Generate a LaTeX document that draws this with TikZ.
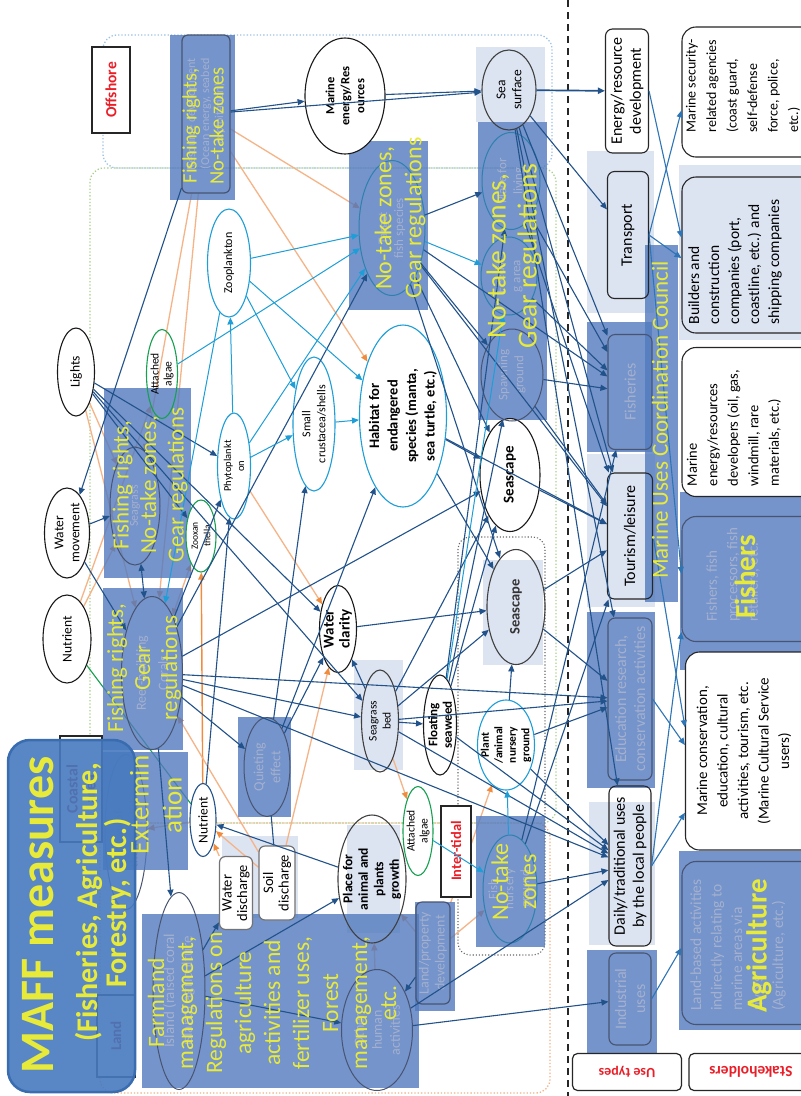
\documentclass[tikz,border=0pt]{standalone}
\usepackage{fontspec}
\setmainfont{Carlito}
\usetikzlibrary{shapes.geometric,arrows.meta,calc}
\pgfdeclarelayer{bg}
\pgfdeclarelayer{under}
\pgfdeclarelayer{veil}
\pgfdeclarelayer{top}
\pgfsetlayers{bg,under,veil,main,top}
\definecolor{dbc}{RGB}{34,82,138}
\definecolor{lbc}{RGB}{30,158,214}
\definecolor{mbc}{RGB}{46,117,182}
\definecolor{orl}{RGB}{245,180,135}
\definecolor{ord}{RGB}{240,140,62}
\definecolor{grc}{RGB}{22,160,80}
\definecolor{ovc}{RGB}{82,122,190}
\definecolor{palec}{RGB}{220,227,241}
\definecolor{hidc}{RGB}{72,84,112}
\definecolor{hidt}{RGB}{165,176,206}
\definecolor{ylw}{RGB}{232,234,58}
\definecolor{mafc}{RGB}{72,122,191}
\definecolor{mafd}{RGB}{58,108,176}
\definecolor{redc}{RGB}{235,30,40}
\definecolor{offc}{RGB}{157,195,230}
\definecolor{coac}{RGB}{169,209,142}
\definecolor{lanc}{RGB}{244,177,131}
\newcommand\fz[2]{\fontsize{#1}{#2}\selectfont}
% ellipse outline node plus a separate text node on top of it
\newcommand\enode[7]{%
  \node[#1,minimum width=#4pt,minimum height=#5pt] (#2) at #3 {};
  \node[tx,#6] (#2-t) at (#2) {#7};}
\begin{document}
\begin{tikzpicture}[x=1pt,y=-1pt,>={Triangle[length=7pt,width=6pt]},
 tx/.style={rotate=90,align=center,inner sep=0pt},
 hidtx/.style={text=hidt},
 ytx/.style={rotate=90,align=center,inner sep=0pt,text=ylw},
 ellB/.style={ellipse,rotate=90,draw=black!90,line width=1.1pt,fill=white,inner sep=0pt},
 ellO/.style={ellipse,rotate=90,draw=black!75,line width=1.1pt,inner sep=0pt},
 ellD/.style={ellB,draw=dbc},
 ellL/.style={ellB,draw=lbc},
 ellG/.style={ellB,draw=grc},
 ellGo/.style={ellO,draw=grc},
 ellH/.style={ellipse,rotate=90,draw=hidc,line width=1pt,inner sep=0pt},
 ellHL/.style={ellH,draw=lbc!60!hidc},
 rbox/.style={rectangle,rotate=90,rounded corners=6pt,draw=black!55,line width=1.2pt,fill=white,align=center,inner sep=1pt},
 rboxh/.style={rectangle,rotate=90,rounded corners=6pt,draw=hidc,line width=1.2pt,align=center,inner sep=1pt,text=hidt},
 ubox/.style={rectangle,rotate=90,rounded corners=7pt,draw=black!85,line width=1.1pt,align=center,inner sep=1pt,font=\fz{16}{19}},
 uboxh/.style={ubox,draw=hidc,text=hidt},
 sbox/.style={rectangle,rotate=90,rounded corners=14pt,draw=black!85,line width=1.1pt,inner sep=0pt},
 sboxh/.style={sbox,draw=hidc},
 stx/.style={rotate=90,align=left,inner sep=0pt},
 lab/.style={rectangle,draw=black!85,line width=2pt,fill=white,text=redc,font=\bfseries\fz{14}{16},inner sep=0pt,align=center},
 veilbox/.style={fill=ovc,fill opacity=0.8,draw=none},
 palebox/.style={fill=palec,draw=none},
 db/.style={draw=dbc,line width=1.1pt,->},
 dbn/.style={draw=dbc,line width=1.1pt},
 dbb/.style={draw=dbc,line width=1.1pt,<->},
 lbe/.style={draw=lbc,line width=1pt,->},
 mbe/.style={draw=mbc,line width=1.1pt,->},
 ore/.style={draw=orl,line width=1.3pt,-{Triangle[length=7pt,width=6pt,color=ord]}},
 orb/.style={draw=orl,line width=1.3pt,{Triangle[length=7pt,width=6pt,color=ord]}-{Triangle[length=7pt,width=6pt,color=ord]}},
 ordk/.style={draw=ord,line width=1.4pt,->},
 gre/.style={draw=grc,line width=1.1pt}]
\useasboundingbox (0,0) rectangle (801,1096);
\clip (0,0) rectangle (801,1096);

% ---------- pale backgrounds and zone outlines
\begin{pgfonlayer}{bg}
\fill[white] (0,0) rectangle (801,1096);
\fill[palebox] (476,47) rectangle (545,122);
\fill[palebox] (483,560) rectangle (543,665);
\fill[palebox] (354,660) rectangle (403,770);
\fill[palebox] (347,825) rectangle (400,933);
\fill[palebox] (222,836) rectangle (298,918);
\fill[palebox] (587,151) rectangle (654,313);
\fill[palebox] (587,454) rectangle (655,607);
\fill[palebox] (589,802) rectangle (655,945);
\fill[palebox] (679,165) rectangle (801,340);
\draw[offc,dotted,line width=1.3pt,rounded corners=14pt] (103,35) rectangle (552,168);
\draw[coac,dotted,line width=1.3pt,rounded corners=14pt] (90,168) rectangle (556,823);
\draw[lanc,dotted,line width=1.3pt,rounded corners=14pt] (100,823) rectangle (550,1093);
\draw[black!60,dotted,line width=1.1pt,rounded corners=12pt] (458,537) rectangle (545,955);
\draw[black!85,line width=1.3pt,dash pattern=on 7pt off 5pt] (568,0) -- (568,1096);
\end{pgfonlayer}

% ---------- ecosystem nodes
\enode{ellB}{lights}{(76,372)}{88}{37}{font=\fz{13.5}{15}}{Lights}
\enode{ellB}{watermv}{(67,533)}{90}{45}{font=\fz{13.5}{16}}{Water\\movement}
\enode{ellB}{nutr1}{(67,639)}{88}{48}{font=\fz{13.5}{15}}{Nutrient}
\enode{ellB}{menergy}{(345,96)}{116}{80}{font=\bfseries\fz{12.5}{15}}{Marine\\energy/Res\\ources}
\enode{ellO}{seasurf}{(509,90)}{80}{54}{font=\fz{13.5}{16}}{Sea\\surface}
\enode{ellB}{seascape1}{(510,475)}{113}{60}{font=\bfseries\fz{15}{18}}{Seascape}
\enode{ellO}{seascape2}{(516,607)}{115}{58}{font=\bfseries\fz{14.5}{17},text=black!80}{Seascape}
\enode{ellB}{waterclar}{(338,629)}{87}{37}{font=\bfseries\fz{15}{16}}{Water\\clarity}
\enode{ellO}{sgbed}{(380,721)}{102}{37}{font=\fz{11.5}{14}}{Seagrass\\bed}
\enode{ellB}{floatsw}{(440,725)}{100}{33}{font=\bfseries\fz{13}{14.5}}{Floating\\seaweed}
\enode{ellO}{placeanim}{(372,879)}{128}{68}{font=\bfseries\fz{13.5}{15.5}}{Place for\\animal and\\plants\\growth}
\enode{ellD}{nutr2}{(203,820)}{73}{26}{font=\fz{13.5}{15}}{Nutrient}
\enode{ellL}{zoopl}{(229,263)}{108}{43}{font=\fz{12}{14}}{Zooplankton}
\enode{ellL}{phyto}{(234,466)}{106}{33}{font=\fz{10.5}{13}}{Phytoplankt\\on}
\enode{ellL}{smallcr}{(314,424)}{134}{42}{font=\fz{12}{15}}{Small\\crustacea/shells}
\enode{ellL}{habitat}{(403,416)}{182}{87}{font=\bfseries\fz{14.5}{18.5}}{Habitat for\\endangered\\species (manta,\\sea turtle, etc.)}
\enode{ellL}{nursery}{(506,745)}{90}{57}{font=\bfseries\fz{11.5}{13.5}}{Plant\\/animal\\nursery\\ground}
\enode{ellGo}{algae1}{(162,374)}{89}{31}{font=\fz{11.5}{13}}{Attached\\algae}
\enode{ellG}{zooxan}{(201,536)}{72}{30}{font=\fz{9.5}{12.5}}{Zooxan\\thella}
\enode{ellG}{algae2}{(418,831)}{89}{30}{font=\fz{11.5}{13}}{Attached\\algae}
% nodes lying under the measure panels
\enode{ellHL}{targetfish}{(392,228)}{135}{66}{hidtx,font=\fz{13}{16}}{Target\\fish species}
\enode{ellHL}{placeliv}{(511,181)}{97}{58}{hidtx,font=\fz{13}{16}}{Place for\\living}
\enode{ellHL}{feeding}{(509,276)}{78}{56}{hidtx,font=\fz{13}{16}}{Feedin\\g area}
\enode{ellH}{spawning}{(512,375)}{92}{62}{hidtx,font=\fz{13}{16}}{Spawning\\ground}
\enode{ellHL}{fishnurs}{(510,889)}{108}{54}{hidtx,font=\fz{13}{16}}{Fish\\nursery\\ground}
\enode{ellH}{seagrass}{(135,506)}{118}{50}{hidtx,font=\fz{12}{15}}{Seagrass}
\enode{ellH}{coral}{(152,673)}{153}{61}{hidtx,font=\fz{14}{22}}{Reef-building\\Corals}
\enode{ellH}{quieting}{(267,767)}{99}{46}{hidtx,font=\fz{14}{17}}{Quieting\\effect}
\enode{ellH}{island}{(179,991)}{197}{52}{hidtx,font=\fz{15}{18}}{Island (raised coral\\island) agriculture}
\enode{ellH}{human}{(377,1030)}{121}{71}{hidtx,font=\fz{14}{18}}{Other\\human\\activities}
\node[rbox,minimum width=73pt,minimum height=33pt,font=\fz{14.5}{15.5}] (waterdis) at (236,893) {Water\\discharge};
\node[rbox,minimum width=74pt,minimum height=36pt,font=\fz{14.5}{15.5}] (soildis) at (277,883) {Soil\\discharge};
\node[rboxh,minimum width=102pt,minimum height=34pt,font=\fz{14}{16}] (landdev) at (433,953) {Land/property\\development};
\node[rboxh,minimum width=158pt,minimum height=48pt,font=\fz{12}{14}] (offbox) at (206,114) {Resource development\\(Ocean energy, seabed\\exploitation)};

% ---------- use types
\node[ubox,minimum width=124pt,minimum height=43pt,fill=white] (energydev) at (627,91) {Energy/resource\\development};
\node[ubox,minimum width=127pt,minimum height=41pt] (transport) at (628,235) {Transport};
\node[uboxh,minimum width=115pt,minimum height=44pt] (fisheries) at (630,392) {Fisheries};
\node[ubox,minimum width=126pt,minimum height=45pt] (tourism) at (630,536) {Tourism/leisure};
\node[uboxh,minimum width=162pt,minimum height=44pt] (education) at (630,699) {Education research,\\conservation activities};
\node[ubox,minimum width=160pt,minimum height=42pt] (daily) at (630,866) {Daily/traditional uses\\by the local people};
\node[uboxh,minimum width=92pt,minimum height=42pt] (industrial) at (630,999) {Industrial\\uses};

% ---------- stakeholders
\node[sbox,minimum width=130pt,minimum height=140pt,fill=white] (security) at (752,92) {};
\node[stx,font=\fz{14}{20.5}] (security-t) at (743,86) {Marine security-\\related agencies\\(coast guard,\\self-defense\\force, police,\\etc.)};
\node[sbox,minimum width=156pt,minimum height=140pt] (builders) at (752,255) {};
\node[stx,font=\fz{15.5}{20}] (builders-t) at (735,262) {Builders and\\construction\\companies (port,\\coastline, etc.) and\\shipping companies};
\node[sbox,minimum width=149pt,minimum height=140pt,fill=white] (mdevelop) at (752,422) {};
\node[stx,font=\fz{14.5}{20.5}] (mdevelop-t) at (734,428) {Marine\\energy/resources\\developers (oil, gas,\\windmill, rare\\materials, etc.)};
\node[sboxh,minimum width=125pt,minimum height=140pt] (fishers) at (752,579) {};
\node[stx,text=hidt,font=\fz{15}{20.5}] (fishers-t) at (733,575) {Fishers, fish\\processors, fish\\retailers, etc.};
\node[sbox,minimum width=198pt,minimum height=137pt,fill=white] (conserv) at (754,751) {};
\node[tx,font=\fz{15}{20.5}] (conserv-t) at (744,751) {Marine conservation,\\education, cultural\\activities, tourism, etc.\\(Marine Cultural Service\\users)};
\node[sboxh,minimum width=163pt,minimum height=140pt] (landbased) at (752,943) {};
\node[stx,text=hidt,font=\fz{15.5}{20.5}] (landbased-t) at (738,945) {Land-based activities\\indirectly relating to\\marine areas via\\rivers\\(Agriculture, etc.)};

% ---------- zone labels
\node[lab,rotate=90,font=\bfseries\fz{15.5}{17},minimum width=86pt,minimum height=38pt] (offlab) at (111,90) {Offshore};
\node[lab,rotate=90,font=\bfseries\fz{14.5}{16},minimum width=91pt,minimum height=30pt] (intlab) at (456,851) {Inter-tidal};
\node[lab,rotate=180,line width=1.2pt,rounded corners=5pt,minimum width=109pt,minimum height=37pt] (uselab) at (627,1072) {Use types};
\node[lab,rotate=180,line width=1.2pt,rounded corners=5pt,font=\bfseries\fz{15.5}{17},minimum width=124pt,minimum height=37pt] (stklab) at (751,1072) {Stakeholders};

% ---------- influences drawn beneath the measure panels
\begin{pgfonlayer}{under}
\node[lab,rotate=90,text=redc!70!black,font=\bfseries\fz{16}{18},minimum width=106pt,minimum height=42pt] (coastlab) at (81,789) {Coastal\\area};
\node[lab,rotate=90,text=redc!70!black,font=\bfseries\fz{15}{17},minimum width=82pt,minimum height=38pt] (landlab) at (116,1036) {Land};
\enode{ellH}{cots}{(126,832)}{155}{42}{text=hidc!60,font=\fz{12}{15}}{Crown-of-\\thorns starfish}
\draw[ore] (offbox) -- (targetfish);
\draw[ore] (offbox) -- (habitat);
\draw[ore] (offbox) -- (seagrass);
\draw[ore] (offbox) -- (coral);
\draw[ore] (lights) -- (seagrass);
\draw[ore] (lights) -- (coral);
\draw[ore] (nutr1) -- (seagrass);
\draw[ore] (nutr1) -- (algae1);
\draw[ore] (phyto) -- (waterclar);
\draw[ordk] (nutr2) -- (zooxan);
\draw[ore] (soildis) -- (nutr2);
\draw[ore] (waterdis) -- (nutr2);
\draw[ore] (soildis) -- (coral);
\draw[ore] (soildis) -- (waterclar);
\draw[ore] (nutr2) -- (cots);
\draw[ore] (sgbed) -- (algae2);
\draw[ore] (landdev) -- (nursery);
\draw[ore] (landdev) -- (fishnurs);
\draw[ore] (landdev) -- (placeanim);
\draw[ore] (human) -- (placeanim);
\draw[orb] (coral) -- (zooxan);
\draw[gre] (nutr1) -- (nutr2);
\end{pgfonlayer}

% ---------- measure panels
\begin{pgfonlayer}{veil}
\fill[veilbox] (170,35) rectangle (235,200);
\fill[veilbox] (349,141) rectangle (428,310);
\fill[veilbox] (478,122) rectangle (547,420);
\fill[veilbox] (104,388) rectangle (191,578);
\fill[veilbox] (103,588) rectangle (183,750);
\fill[veilbox] (103,752) rectangle (188,870);
\fill[veilbox] (238,717) rectangle (291,817);
\fill[veilbox] (142,914) rectangle (419,1088);
\fill[veilbox] (476,816) rectangle (545,947);
\fill[veilbox] (645,245) rectangle (678,602);
\fill[veilbox] (587,322) rectangle (652,452);
\fill[veilbox] (587,612) rectangle (655,788);
\fill[veilbox] (587,950) rectangle (657,1058);
\fill[veilbox] (680,492) rectangle (801,670);
\fill[veilbox] (679,851) rectangle (801,1030);
\fill[veilbox] (415,902) rectangle (455,1011);
\draw[fill=mafc,fill opacity=0.9,draw=mafd,line width=2.5pt,rounded corners=22pt] (8,740) rectangle (135,1092);
\end{pgfonlayer}

% ---------- dark blue influences
\draw[db] (offbox) -- (menergy);
\draw[db] (offbox) -- (seasurf);
\draw[db] (offbox) -- (watermv);
\draw[db] (menergy) -- (seasurf);
\draw[db,line width=1.7pt] (seasurf) -- (energydev);
\draw[db] (seasurf) -- (transport);
\draw[db] (seasurf) -- (fisheries);
\draw[db] (seasurf) -- (tourism);
\draw[db] (seasurf) -- (education);
\draw[db] (seasurf) -- (daily);
\draw[db] (lights) -- (phyto);
\draw[db] (lights) -- (zooxan);
\draw[db] (lights) -- (waterclar);
\draw[db] (lights) -- (sgbed);
\draw[db] (watermv) -- (seagrass);
\draw[db] (watermv) -- (coral);
\draw[dbb] (seagrass) -- (coral);
\draw[db] (coral) -- (phyto);
\draw[db] (coral) -- (targetfish);
\draw[db] (coral) -- (seascape1);
\draw[db] (coral) -- (sgbed);
\draw[db] (coral) -- (quieting);
\draw[db] (coral) -- (education);
\draw[db] (coral) -- (daily);
\draw[db] (coral) -- (island);
\draw[db] (nutr2) -- (phyto);
\draw[db] (placeanim) -- (nutr2);
\draw[db] (quieting) -- (waterclar);
\draw[db] (quieting) -- (smallcr);
\draw[db] (quieting) -- (habitat);
\draw[dbn] (soildis) -- (quieting);
\draw[db] (sgbed) -- (waterclar);
\draw[db] (sgbed) -- (floatsw);
\draw[db] (sgbed) -- (seascape2);
\draw[db] (sgbed) -- (seascape1);
\draw[db] (sgbed) -- (education);
\draw[db] (sgbed) -- (daily);
\draw[db] (floatsw) -- (placeliv);
\draw[db] (floatsw) -- (seascape1);
\draw[db] (floatsw) -- (spawning);
\draw[db] (floatsw) -- (daily);
\draw[db] (waterclar) -- (seascape2);
\draw[db] (nursery) -- (seascape2);
\draw[db] (nursery) -- (education);
\draw[db] (nursery) -- (daily);
\draw[db] (fishnurs) -- (fisheries);
\draw[db] (fishnurs) -- (tourism);
\draw[db] (fishnurs) -- (daily);
\draw[db] (habitat) -- (seascape1);
\draw[db] (habitat) -- (seascape2);
\draw[db] (habitat) -- (tourism);
\draw[db] (targetfish) -- (placeliv);
\draw[db] (targetfish) -- (spawning);
\draw[db] (targetfish) -- (seascape1);
\draw[db] (targetfish) -- (seascape2);
\draw[db] (targetfish) -- (fisheries);
\draw[db] (targetfish) -- (tourism);
\draw[db] (placeliv) -- (fisheries);
\draw[db] (placeliv) -- (tourism);
\draw[db] (feeding) -- (fisheries);
\draw[db] (spawning) -- (fisheries);
\draw[db] (spawning) -- (tourism);
\draw[db] (seascape1) -- (tourism);
\draw[db] (seascape2) -- (tourism);
\draw[db] (seascape2) -- (education);
\draw[db] (island) -- (waterdis);
\draw[db] (island) -- (human);
\draw[db] (island) -- (placeanim);
\draw[db] (landdev) -- (human);
\draw[db] (human) -- (industrial);
\draw[db] (human) -- (daily);

% ---------- light blue food-web links
\draw[lbe] (zoopl) -- (targetfish);
\draw[lbe] (zoopl) -- (smallcr);
\draw[lbe] (zoopl) -- (habitat);
\draw[lbe] (zoopl) -- (coral);
\draw[lbe] (phyto) -- (zoopl);
\draw[lbe] (phyto) -- (smallcr);
\draw[lbe] (phyto) -- (targetfish);
\draw[lbe] (algae1) -- (targetfish);
\draw[lbe] (smallcr) -- (habitat);
\draw[lbe] (targetfish) -- (feeding);
\draw[lbe] (algae2) -- (fishnurs);
\draw[lbe] (fishnurs) -- (nursery);
\draw[lbe] (floatsw) -- (feeding);

% ---------- use types to stakeholders
\draw[mbe] (energydev.south) -- ($(builders.north west)!0.61!(builders.north east)$);
\draw[mbe] (transport.south) -- ($(security.north west)!0.36!(security.north east)$);
\draw[mbe] (transport.south) -- ($(builders.north west)!0.48!(builders.north east)$);
\draw[mbe] (transport.south) -- ($(fishers.north west)!0.54!(fishers.north east)$);
\draw[mbe] (tourism.south) -- ($(conserv.north west)!0.62!(conserv.north east)$);
\draw[mbe] (education.south) -- ($(conserv.north west)!0.53!(conserv.north east)$);
\draw[mbe] (daily.south) -- ($(conserv.north west)!0.19!(conserv.north east)$);
\draw[mbe] (daily.south) -- ($(fishers.north west)!0.08!(fishers.north east)$);
\draw[mbe] (industrial.south) -- ($(landbased.north west)!0.47!(landbased.north east)$);

% ---------- measure texts
\begin{pgfonlayer}{top}
\node[ytx,font=\fz{20.5}{27}] (m-off) at (203,126) {Fishing rights,\\No-take zones};
\node[ytx,font=\fz{24}{30}] (m-fish) at (400,218) {No-take zones,\\Gear regulations};
\node[ytx,font=\fz{27.5}{31}] (m-live) at (514,256) {No-take zones,\\Gear regulations};
\node[ytx,font=\fz{23}{27.5}] (m-grass) at (150,485) {Fishing rights,\\No-take zones,\\Gear regulations};
\node[ytx,font=\fz{23}{27}] (m-coral) at (144,668) {Fishing rights,\\Gear\\regulations};
\node[ytx,font=\fz{27}{33}] (m-cots) at (156,805) {Extermin\\ation};
\node[ytx,font=\fz{23.5}{29}] (m-farm) at (272,1003) {Farmland\\management,\\Regulations on\\agriculture\\activities and\\fertilizer uses,\\Forest\\management,\\etc.};
\node[ytx,font=\fz{24}{28}] (m-nurs) at (514,882) {No-take\\zones};
\node[ytx,font=\fz{23}{26}] (m-council) at (660,420) {Marine Uses Coordination Council};
\node[ytx,font=\bfseries\fz{29}{32}] (m-fishers) at (745,577) {Fishers};
\node[ytx,font=\bfseries\fz{29}{32}] (m-agri) at (759,946) {Agriculture};
\node[ytx,font=\bfseries\fz{48}{52}] (maff1) at (38,915) {MAFF measures};
\node[ytx,font=\bfseries\fz{30}{32}] (maff2) at (89,902) {(Fisheries, Agriculture,};
\node[ytx,font=\bfseries\fz{30}{32}] (maff3) at (118,903) {Forestry, etc.)};
\end{pgfonlayer}
\end{tikzpicture}
\end{document}
